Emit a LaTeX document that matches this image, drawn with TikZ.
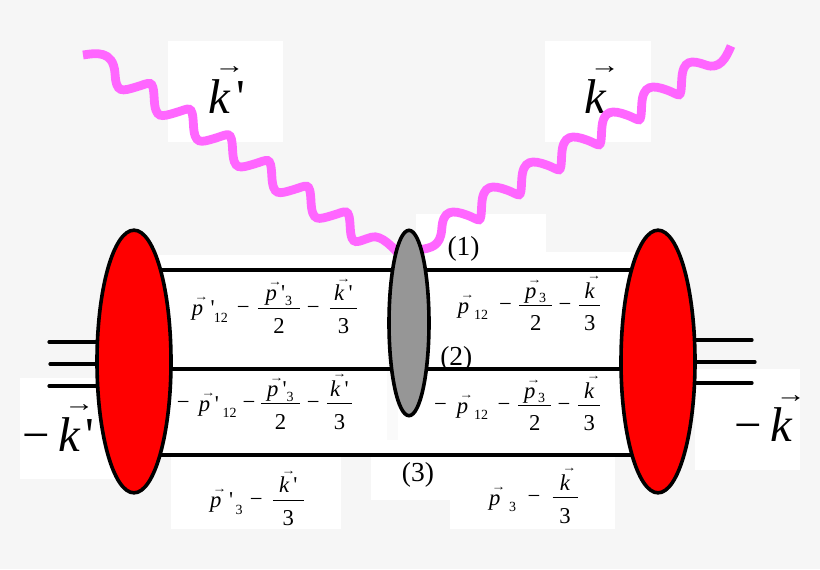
\documentclass[tikz,border=0pt]{standalone}
\usepackage{fontspec}
\setmainfont{Liberation Serif}
\newfontfamily\plainf{Liberation Serif}
\usetikzlibrary{shapes.geometric,backgrounds}
\definecolor{pagebg}{HTML}{F6F6F6}
\definecolor{wavecol}{HTML}{FF66FF}
\definecolor{midgray}{HTML}{969696}
\newdimen\pxu \pxu=.75pt
% place #2 at #1 px from the start of the label
\newcommand\tp[2]{\makebox[0pt][l]{\hspace{#1\pxu}#2}}
\newcommand\pr{{\plainf\char39 }}
% letter with a vector arrow: [height in em]{letter}
\newcommand\vecr[2][.73]{\makebox[0pt][l]{\hspace{.11em}\raisebox{\dimexpr #1em-.11em\relax}{\scalebox{.62}[.5]{\upshape\bfseries →}}}#2}
\newcommand\mn{\raisebox{.06em}{−}}
\newcommand\vk{\textit{\vecr[.92]{k}}}
\newcommand\vp{\textit{\vecr[.77]{p}}}
\newcommand\subt[2][-5pt]{\raisebox{#1}{\fontsize{10.5}{12}\selectfont #2}}
\newcommand\fr[3]{\makebox[#1\pxu][c]{\makebox[0pt][c]{\raisebox{.31em}{\rule{#1\pxu}{.7pt}}}\makebox[0pt][c]{\raisebox{.66em}{#2}}\makebox[0pt][c]{\raisebox{-.79em}{#3}}}}
\newcommand\npp{\vp\kern3pt\pr\subt[-3.5pt]{3}}
\newcommand\np{\vp\subt[-3.5pt]{\kern2pt 3}}
\newcommand\nkk{\vk\kern3pt\pr}
\tikzset{
  whitebox/.style={fill=white,draw=none},
  wire/.style={draw=black,line width=2.4pt},
  stub/.style={draw=black,line width=2.4pt,line cap=round},
  blob/.style={ellipse,draw=black,line width=2.7pt,inner sep=0pt,outer sep=0pt},
  photon/.style={draw=wavecol,line width=6.6pt},
  biglabel/.style={anchor=base west,inner sep=0pt,font=\fontsize{36.6}{40}\selectfont},
  formula/.style={anchor=base west,inner sep=0pt,font=\fontsize{17}{20}\selectfont},
  vertexlabel/.style={anchor=base west,inner sep=0pt,font=\fontsize{20.6}{24}\selectfont},
}
\begin{document}
\begin{tikzpicture}[x=.75pt,y=-.75pt]
\path[use as bounding box] (0,0) rectangle (820,569);
% blobs
\node[blob,fill=red,minimum width=55.5pt,minimum height=197pt] (redL) at (134,361.5) {};
\node[blob,fill=red,minimum width=55.5pt,minimum height=197pt] (redR) at (658,361.5) {};
\node[blob,fill=midgray,minimum width=30pt,minimum height=139pt] (mid) at (409,323) {};
% formulas
\node[formula] (f1) at (191,315.5) {\tp{0}{\vp}\tp{18.7}{\pr}\tp{22}{\subt{12}}\tp{45}{\mn}\tp{66}{\fr{42}{\npp}{2}}\tp{115}{\mn}\tp{138}{\fr{27}{\nkk}{3}}};
\node[formula] (f2) at (176,411.3) {\tp{0}{\mn}\tp{22}{\vp}\tp{38}{\pr}\tp{45.7}{\subt{12}}\tp{65.7}{\mn}\tp{84}{\fr{39}{\npp}{2}}\tp{130}{\mn}\tp{150}{\fr{25}{\nkk}{3}}};
\node[formula] (f3) at (209.3,507.7) {\tp{0}{\vp}\tp{19}{\pr}\tp{25.5}{\subt{3}}\tp{39.7}{\mn}\tp{62.7}{\fr{30.7}{\nkk}{3}}};
\node[formula] (f4) at (457,313) {\tp{0}{\vp}\tp{16.3}{\subt{12}}\tp{41.3}{\mn}\tp{61.3}{\fr{33}{\np}{2}}\tp{100.7}{\mn}\tp{121.3}{\fr{21}{\vk}{3}}};
\node[formula] (f5) at (433.3,413) {\tp{0}{\mn}\tp{22.7}{\vp}\tp{40}{\subt{12}}\tp{63.4}{\mn}\tp{84}{\fr{33}{\np}{2}}\tp{123.4}{\mn}\tp{144}{\fr{22}{\vk}{3}}};
\node[formula] (f6) at (488.3,505.3) {\tp{0}{\vp}\tp{20}{\subt{3}}\tp{38.4}{\mn}\tp{63.4}{\fr{25}{\vk}{3}}};
\node[vertexlabel] (v1) at (447.3,255.7) {(1)};
\node[vertexlabel] (v2) at (440,365.7) {(2)};
\node[vertexlabel] (v3) at (401.7,481.7) {(3)};
\node[biglabel] (kmL) at (20,451) {\tp{2}{−}\tp{37.7}{\vk}\tp{65}{\pr}};
\node[biglabel] (kmR) at (733,441.7) {\tp{1}{−}\tp{36.3}{\vk}};
\begin{scope}[on background layer]
  \fill[pagebg] (0,0) rectangle (820,569);
  \fill[whitebox] (168,41) rectangle (283,142);
  \fill[whitebox] (545,41) rectangle (651,142);
  \fill[whitebox] (416,214) rectangle (546,252);
  \fill[whitebox] (416,252) rectangle (650,255);
  \fill[whitebox] (157,255) rectangle (650,455);
  \fill[pagebg!50!white] (387,353) rectangle (398,440);
  \fill[whitebox] (171,455) rectangle (341,529);
  \fill[whitebox] (371,455) rectangle (450,500);
  \fill[whitebox] (450,455) rectangle (615,529);
  \fill[whitebox] (20,378) rectangle (120,479);
  \fill[whitebox] (695,369) rectangle (800,470);
  \node[biglabel] (kpr) at (208,113.3) {\tp{0}{\vk}\tp{28}{\pr}};
  \node[biglabel] (kk) at (584,113.3) {\vk};
  % photons
  \coordinate (phLstart) at (83,55);
  \coordinate (phLend) at (401,256);
  \coordinate (phRstart) at (731,46);
  \coordinate (phRend) at (418,250);
  \draw[photon] (phLstart) .. controls (96,53) and (113,50) .. (115,73)
    \foreach \i in {1,...,6}{ .. controls +(1,21) and +(-14,4) .. ++(21.2,14) .. controls +(14,-4) and +(-1,-21) .. ++(18,11.7)}
    .. controls +(1,21) and +(-14,4) .. ++(21.2,10) .. controls +(10,-3) and +(-8,-8) .. (phLend);
  \draw[photon] (phRend) .. controls (432,248) and (440,246) .. (441.7,230)
    \foreach \i in {1,...,6}{ .. controls +(1,-21) and +(-14,-5) .. ++(25,-15) .. controls +(14,5) and +(-1,21) .. ++(15,-10)}
    .. controls +(1,-21) and +(-14,-5) .. ++(24,-15) .. controls +(14,5) and +(-5,12) .. (phRstart);
  % wires
  \draw[wire] (redL.center |- 0,270) -- (redR.center |- 0,270);
  \draw[wire] (redL.center |- 0,369) -- (redR.center |- 0,369);
  \draw[wire] (redL.center |- 0,455) -- (redR.center |- 0,455);
  \coordinate (sL1) at (49,342); \coordinate (sL2) at (50,364); \coordinate (sL3) at (49,386);
  \coordinate (sR1) at (752,340); \coordinate (sR2) at (755,362); \coordinate (sR3) at (752,383);
  \draw[stub] (sL1) -- (redL.center |- sL1);
  \draw[stub] (sL2) -- (redL.center |- sL2);
  \draw[stub] (sL3) -- (redL.center |- sL3);
  \draw[stub] (sR1) -- (redR.center |- sR1);
  \draw[stub] (sR2) -- (redR.center |- sR2);
  \draw[stub] (sR3) -- (redR.center |- sR3);
\end{scope}
\end{tikzpicture}
\end{document}
